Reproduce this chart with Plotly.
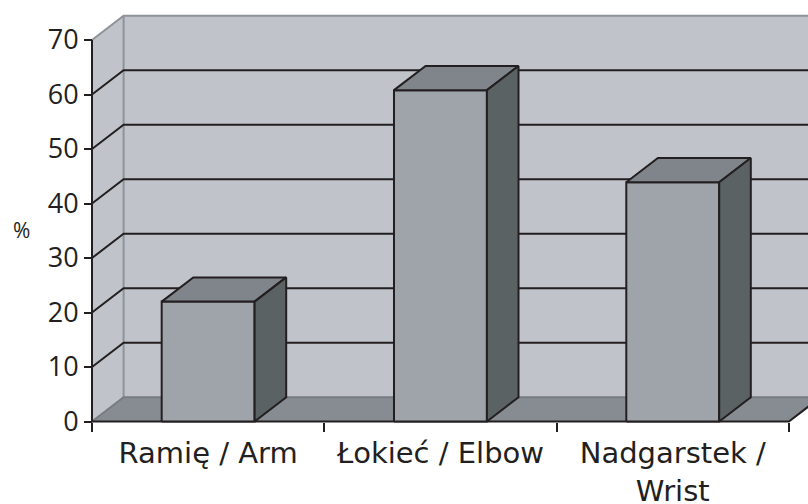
import plotly.graph_objects as go

# ---- data ----
categories = ["Ramię / Arm", "Łokieć / Elbow", "Nadgarstek /<br>Wrist"]
values = [22, 60.8, 43.9]
y_ticks = [0, 10, 20, 30, 40, 50, 60, 70]
y_max = 70

# ---- pseudo-3D geometry (in axis units) ----
DX = 0.136      # depth offset along category axis
DY = 4.44       # depth offset along value axis
BAR_HALF = 0.2  # half bar width (category units)
N = len(categories)

INK = "#231f20"
WALL = "#c0c3ca"
FLOOR = "#878c92"
EDGE = "#8d9399"
FLOOR_EDGE = "#777c82"
FRONT = "#9ea4aa"
TOP = "#80858b"
SIDE = "#5b6264"

W, H = 808, 504
X0_PX, Y0_PX = 92.0, 421.5       # pixel of (x=0, y=0)
PX_PER_CAT, PX_PER_UNIT = 232.3, 5.45

fig = go.Figure()


def poly(xs, ys, fill, line_color=None, width=0):
    fig.add_trace(go.Scatter(
        x=xs + [xs[0]], y=ys + [ys[0]], mode="lines", fill="toself",
        fillcolor=fill, line=dict(color=line_color or fill, width=width),
        hoverinfo="skip", showlegend=False))


def seg(xs, ys, color, width=2):
    fig.add_trace(go.Scatter(
        x=xs, y=ys, mode="lines", line=dict(color=color, width=width),
        hoverinfo="skip", showlegend=False))


# walls and floor
poly([DX, N + DX, N + DX, DX], [DY, DY, y_max + DY, y_max + DY], WALL)
poly([0, DX, DX, 0], [0, DY, y_max + DY, y_max], WALL)
poly([0, N, N + DX, DX], [0, 0, DY, DY], FLOOR)

# wall edges
seg([DX, DX], [DY, y_max + DY], EDGE)
seg([0, DX, N + DX], [y_max, y_max + DY, y_max + DY], EDGE)
seg([0, DX, N + DX], [0, DY, DY], FLOOR_EDGE)

# gridlines
for t in y_ticks[1:-1]:
    seg([0, DX, N + DX], [t, t + DY, t + DY], INK)

# floor front edge and value axis line
seg([0, N, N + DX], [0, 0, DY], INK)
seg([0, 0], [0, y_max], INK)

# bars
for i, v in enumerate(values):
    c = i + 0.5
    xl, xr = c - BAR_HALF, c + BAR_HALF
    poly([xl, xr, xr, xl], [0, 0, v, v], FRONT, INK, 2)
    poly([xl, xr, xr + DX, xl + DX], [v, v, v + DY, v + DY], TOP, INK, 2)
    poly([xr, xr + DX, xr + DX, xr], [0, DY, v + DY, v], SIDE, INK, 2)

x_range = [-X0_PX / PX_PER_CAT, (W - X0_PX) / PX_PER_CAT]
y_range = [-(H - Y0_PX) / PX_PER_UNIT, Y0_PX / PX_PER_UNIT]

fig.update_layout(
    width=W, height=H,
    margin=dict(l=0, r=0, t=0, b=0, autoexpand=False),
    paper_bgcolor="white", plot_bgcolor="white",
    hovermode=False,
    showlegend=False,
    xaxis=dict(
        range=x_range, anchor="free", position=(H - Y0_PX) / H,
        automargin=False,
        showgrid=False, zeroline=False, showline=False,
        tickmode="array", tickvals=[i + 0.5 for i in range(N)], ticktext=categories,
        ticks="outside", ticklen=0, tickcolor=INK,
        minor=dict(tickmode="array", tickvals=list(range(N + 1)), ticks="outside",
                   ticklen=9, tickwidth=2, tickcolor=INK, showgrid=False),
        tickfont=dict(family="DejaVu Sans", size=29, color=INK),
        ticklabelstandoff=6,
        fixedrange=True,
    ),
    yaxis=dict(
        range=y_range, anchor="free", position=X0_PX / W,
        automargin=False,
        showgrid=False, zeroline=False, showline=False,
        tickmode="array", tickvals=y_ticks,
        ticks="outside", ticklen=8, tickwidth=2, tickcolor=INK,
        tickfont=dict(family="Open Sans", size=27, color=INK),
        fixedrange=True,
    ),
    annotations=[dict(
        text="%", xref="paper", yref="paper", x=21 / W, y=(H - 230) / H,
        showarrow=False, font=dict(family="Open Sans", size=21, color=INK),
        xanchor="center", yanchor="middle")],
)

# remove the browser's default 8px body margin so the figure fills the window exactly
fig.write_html(
    "out.html",
    config={"displayModeBar": False},
    post_script="document.body.style.margin='0';document.body.style.overflow='hidden';",
)
